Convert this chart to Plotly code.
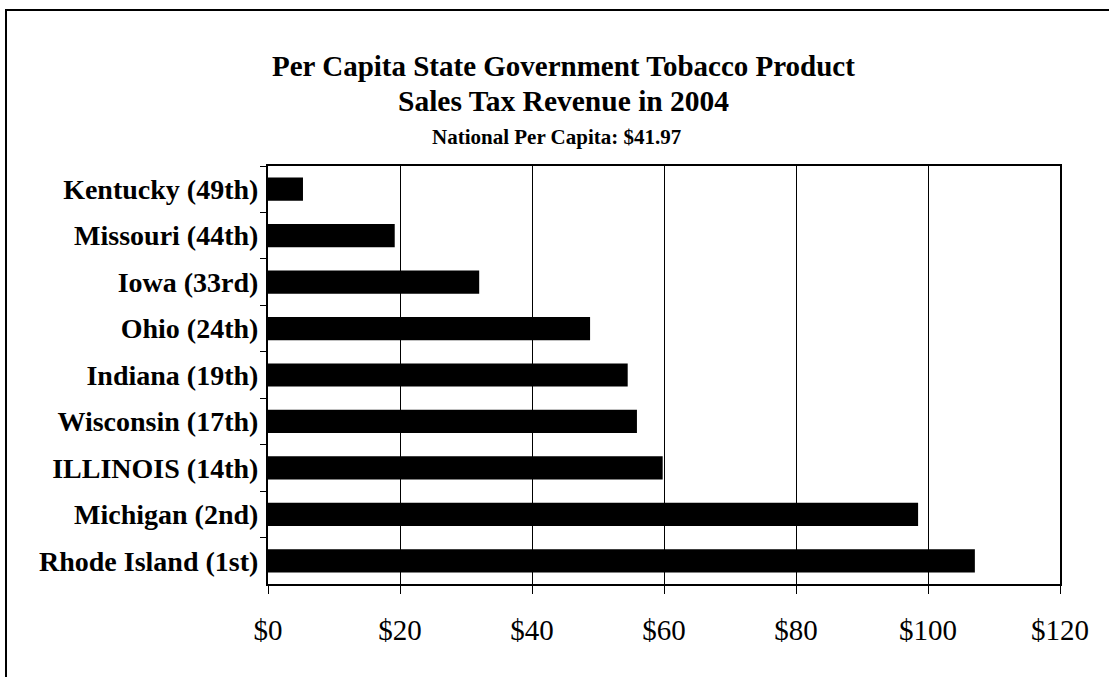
import plotly.graph_objects as go

states = ["Kentucky (49th)", "Missouri (44th)", "Iowa (33rd)", "Ohio (24th)",
          "Indiana (19th)", "Wisconsin (17th)", "ILLINOIS (14th)",
          "Michigan (2nd)", "Rhode Island (1st)"]
revenue = [5.3, 19.2, 32.0, 48.8, 54.5, 55.9, 59.8, 98.5, 107.1]
x_ticks = [0, 20, 40, 60, 80, 100, 120]
x_tick_labels = ["$0", "$20", "$40", "$60", "$80", "$100", "$120"]

title_line1 = "Per Capita State Government Tobacco Product"
title_line2 = "Sales Tax Revenue in 2004"
subtitle = "National Per Capita: $41.97"

W, H = 1109, 677
L, R, T, B = 268, 1060, 166, 584

fig = go.Figure(go.Bar(
    x=revenue, y=states, orientation="h",
    marker=dict(color="black", line=dict(color="black", width=0)),
    width=0.5,
))

serif = "Liberation Serif, Times New Roman, serif"

fig.update_layout(
    width=W, height=H,
    margin=dict(l=L, r=W - R, t=T, b=H - B),
    paper_bgcolor="white", plot_bgcolor="white",
    showlegend=False,
    font=dict(family=serif, color="black"),
    bargap=0.5,
)

fig.update_xaxes(
    range=[0, 120], tickvals=x_ticks, ticktext=x_tick_labels,
    showgrid=True, gridcolor="black", gridwidth=1,
    showline=True, linecolor="black", linewidth=2, mirror=True,
    ticks="outside", ticklen=8, tickcolor="black", tickwidth=1,
    tickfont=dict(size=29, family=serif, color="black"),
    ticklabelstandoff=11,
    zeroline=False, fixedrange=True,
)
fig.update_yaxes(
    categoryorder="array", categoryarray=states, autorange="reversed",
    showline=True, linecolor="black", linewidth=2, mirror=True,
    ticks="outside", ticklen=6, tickcolor="black", tickwidth=1,
    tickson="boundaries",
    tickfont=dict(size=28, family=serif, color="black", weight="bold"),
    ticklabelstandoff=2,
    showgrid=False, fixedrange=True,
)

def px_x(px):
    return (px - L) / (R - L)

def px_y(py):
    return (B - py) / (B - T)

cx = px_x(563)
fig.add_annotation(text="<b>" + title_line1 + "</b>", xref="paper", yref="paper",
                   x=cx, y=px_y(66), xanchor="center", yanchor="middle",
                   showarrow=False, font=dict(size=29, family=serif, color="black"))
fig.add_annotation(text="<b>" + title_line2 + "</b>", xref="paper", yref="paper",
                   x=cx, y=px_y(101), xanchor="center", yanchor="middle",
                   showarrow=False, font=dict(size=29.5, family=serif, color="black"))
fig.add_annotation(text="<b>" + subtitle + "</b>", xref="paper", yref="paper",
                   x=px_x(556), y=px_y(137), xanchor="center", yanchor="middle",
                   showarrow=False, font=dict(size=21, family=serif, color="black"))

fig.add_shape(type="rect", xref="paper", yref="paper",
              x0=px_x(6), x1=px_x(1120), y0=px_y(690), y1=px_y(10),
              line=dict(color="black", width=2), fillcolor="rgba(0,0,0,0)",
              layer="below")

fig.write_html("out.html")
